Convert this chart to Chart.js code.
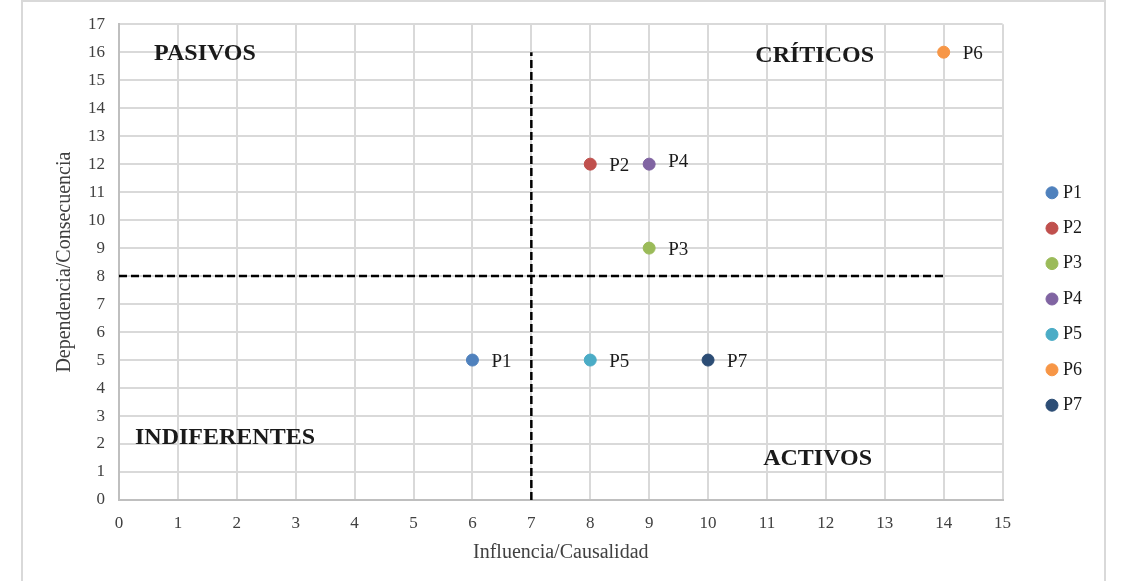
<!DOCTYPE html>
<html>
<script src="https://cdn.jsdelivr.net/npm/chart.js@4.4.0/dist/chart.umd.min.js"></script>
<body style="margin:0;background:#fff">

<div style="width:1128px;height:581px"><canvas id="matrixChart"></canvas></div>

<script>

    // the problems plotted on the influence / dependence matrix
    let problemNames = ["P1", "P2", "P3", "P4", "P5", "P6", "P7"];
    let influenceValues = [6, 8, 9, 9, 8, 14, 10];
    let dependenceValues = [5, 12, 9, 12, 5, 16, 5];
    let pointColors = ["#4f81bd", "#c0504d", "#9bbb59", "#8064a2", "#4bacc6", "#f79646", "#2c4d75"];

    // dashed dividers of the quadrants
    let dividerX = [7, 7];
    let dividerXRange = [0, 16];
    let dividerY = [8, 8];
    let dividerYRange = [0, 14];

    let quadrantNames = ["PASIVOS", "CRÍTICOS", "INDIFERENTES", "ACTIVOS"];
    let xTicks = [0, 15];
    let yTicks = [0, 17];

    let serif = "'Liberation Serif', 'Times New Roman', serif";

    let datasets = problemNames.map((name, i) => ({
        label: name,
        data: [{x: influenceValues[i], y: dependenceValues[i]}],
        backgroundColor: pointColors[i],
        borderColor: pointColors[i],
        pointRadius: 6,
        pointHoverRadius: 6
    }));

    datasets.push({
        label: "divX",
        data: dividerXRange.map((v, i) => ({x: dividerX[i], y: v})),
        showLine: true, borderColor: "#000", borderWidth: 2.5, borderDash: [8, 4],
        pointRadius: 0
    });
    datasets.push({
        label: "divY",
        data: dividerYRange.map((v, i) => ({x: v, y: dividerY[i]})),
        showLine: true, borderColor: "#000", borderWidth: 2.5, borderDash: [8, 4],
        pointRadius: 0
    });

    // frame around the whole figure
    const framePlugin = {
        id: "frame",
        beforeDraw(chart) {
            let ctx = chart.ctx;
            ctx.save();
            ctx.fillStyle = "#fff";
            ctx.fillRect(0, 0, chart.width, chart.height);
            ctx.strokeStyle = "#d9d9d9";
            ctx.lineWidth = 2;
            ctx.strokeRect(22, 1, 1083, 600);
            ctx.restore();
        }
    };

    // point labels and quadrant names
    const labelPlugin = {
        id: "labels",
        afterDatasetsDraw(chart) {
            let ctx = chart.ctx;
            let xs = chart.scales.x, ys = chart.scales.y;
            ctx.save();
            ctx.fillStyle = "#1a1a1a";
            ctx.font = "19px " + serif;
            ctx.textBaseline = "middle";
            ctx.textAlign = "left";
            problemNames.forEach((name, i) => {
                let p = chart.getDatasetMeta(i).data[0];
                let dy = name === "P4" ? -2 : 2;
                ctx.fillText(name, p.x + 19, p.y + dy);
            });

            ctx.font = "bold 24px " + serif;
            ctx.textAlign = "center";
            let spots = [[1.46, 15.94], [11.81, 15.87], [1.8, 2.24], [11.86, 1.48]];
            quadrantNames.forEach((q, i) => {
                ctx.fillText(q, xs.getPixelForValue(spots[i][0]), ys.getPixelForValue(spots[i][1]));
            });
            ctx.restore();
        }
    };

    new Chart("matrixChart", {
        type: "scatter",
        data: {datasets: datasets},
        plugins: [framePlugin, labelPlugin],
        options: {
            responsive: true,
            maintainAspectRatio: false,
            animation: false,
            layout: {padding: {left: 40, right: 36, top: 17, bottom: 0}},
            plugins: {
                tooltip: {enabled: false},
                legend: {
                    position: "right",
                    labels: {
                        usePointStyle: true,
                        pointStyle: "circle",
                        boxWidth: 4,
                        boxHeight: 8.5,
                        padding: 17.4,
                        color: "#1a1a1a",
                        font: {family: serif, size: 18},
                        filter: item => item.text.charAt(0) === "P"
                    }
                }
            },
            scales: {
                x: {
                    min: xTicks[0], max: xTicks[1],
                    ticks: {stepSize: 1, color: "#404040", font: {family: serif, size: 17}, padding: 13},
                    grid: {color: "#d9d9d9", lineWidth: 2, drawTicks: false},
                    border: {color: "#bfbfbf", width: 2},
                    title: {display: true, text: "Influencia/Causalidad", color: "#404040",
                        font: {family: serif, size: 20}, padding: {top: 8, bottom: 16}},
                    afterFit: s => { s.height = 81; }
                },
                y: {
                    min: yTicks[0], max: yTicks[1],
                    ticks: {stepSize: 1, color: "#404040", font: {family: serif, size: 17}, padding: 14},
                    grid: {color: "#d9d9d9", lineWidth: 2, drawTicks: false},
                    border: {color: "#bfbfbf", width: 2},
                    title: {display: true, text: "Dependencia/Consecuencia", color: "#404040",
                        font: {family: serif, size: 20}, padding: {top: 13, bottom: 4}},
                    afterFit: s => { s.width = 79; }
                },
                // empty spacer between the plot and the legend
                gap: {
                    type: "linear", position: "right", display: true,
                    grid: {display: false}, ticks: {display: false}, border: {display: false},
                    afterFit: s => { s.width = 30; }
                }
            }
        }
    });

</script>
</body>
</html>
